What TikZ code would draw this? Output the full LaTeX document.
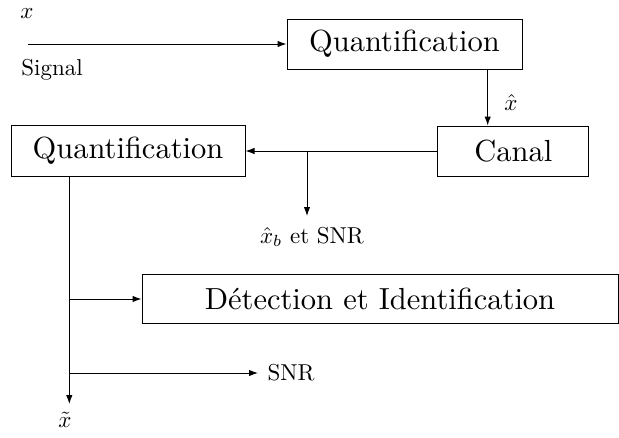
\documentclass[tikz,border=0pt]{standalone}
\usetikzlibrary{arrows.meta}
\newcommand{\bigtxt}[1]{\scalebox{3.05}{#1}}
\newcommand{\smtxt}[1]{\scalebox{2.3}{#1}}
\begin{document}
\begin{tikzpicture}[x=1pt,y=-1pt, line width=1pt,
 box/.style={draw, line width=1pt, inner sep=0pt},
 lbl/.style={inner sep=0pt},
 arr/.style={-{Latex[length=9pt,width=6.5pt]}}]
\useasboundingbox (0,0) rectangle (619,437);
% boxes
\node[box, minimum width=235pt, minimum height=50pt] (q1) at (404.5,44) {\bigtxt{Quantification}};
\node[box, minimum width=151pt, minimum height=50pt] (canal) at (513.3,151) {\bigtxt{Canal}};
\node[box, minimum width=234pt, minimum height=51pt] (q2) at (128,151) {\bigtxt{Quantification}};
\node[box, minimum width=476pt, minimum height=49pt] (det) at (380,298.5) {\bigtxt{Détection et Identification}};
% labels
\node[lbl] (xlab) at (27,14) {\smtxt{$x$}};
\node[lbl] (signal) at (52,70) {\smtxt{Signal}};
\node[lbl] (xhat) at (511,103) {\smtxt{$\hat{x}$}};
\node[lbl] (xb) at (312,237) {\smtxt{$\hat{x}_b$ et SNR}};
\node[lbl, anchor=west] (snr) at (267,373) {\smtxt{SNR}};
\node[lbl] (xtilde) at (65,420) {\smtxt{$\tilde{x}$}};
% coordinates
\coordinate (in) at (28,44);
\coordinate (dq) at (487.7,0);
\coordinate (br) at (307,151);
\coordinate (brend) at (307,216);
\coordinate (vx) at (69.3,0);
\coordinate (vend) at (69.3,404);
\coordinate (bdet) at (69.3,299);
\coordinate (bsnr) at (69.3,373);
\coordinate (snrend) at (258,373);
% connectors
\draw[arr] (in) -- (q1.west);
\draw[arr] (q1.south -| dq) -- (canal.north -| dq);
\draw[arr] (canal.west) -- (q2.east);
\draw[arr] (br) -- (brend);
\draw[arr] (q2.south -| vx) -- (vend);
\draw[arr] (bdet) -- (det.west |- bdet);
\draw[arr] (bsnr) -- (snrend);
\end{tikzpicture}
\end{document}
